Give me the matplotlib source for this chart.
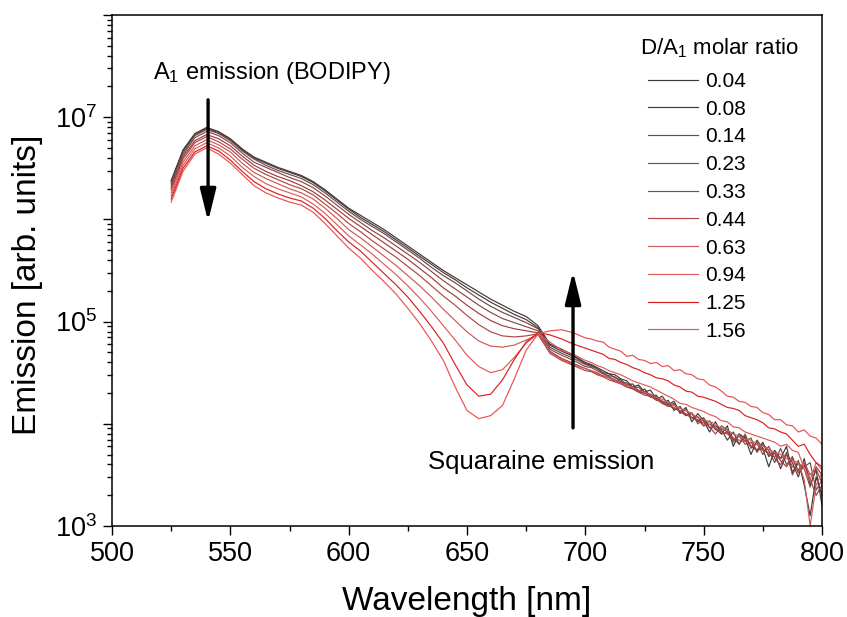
import numpy as np
import matplotlib
matplotlib.use("Agg")
import matplotlib.pyplot as plt
from matplotlib.ticker import FixedLocator, FuncFormatter, LogLocator, NullFormatter, MultipleLocator

plt.rcParams["font.family"] = ["Liberation Sans", "DejaVu Sans"]
plt.rcParams["mathtext.fontset"] = "custom"
plt.rcParams["mathtext.rm"] = "Liberation Sans"
plt.rcParams["mathtext.it"] = "Liberation Sans:italic"

# wavelength grid (nm): 5 nm steps up to 700, 2.5 nm steps in the noisy tail
wavelength = list(range(525, 701, 5)) + list(np.arange(702.5, 800.1, 2.5))

# log10(emission), one list per D/A1 molar ratio
log_em_004 = [6.38, 6.68, 6.84, 6.90, 6.86, 6.79, 6.69, 6.61, 6.56, 6.51, 6.47, 6.43, 6.37, 6.29, 6.20,
              6.11, 6.04, 5.97, 5.90, 5.82, 5.74, 5.66, 5.58, 5.50, 5.43, 5.36, 5.29, 5.22, 5.16, 5.10,
              5.05, 4.96, 4.78, 4.73, 4.67, 4.60,
              4.58, 4.55, 4.52, 4.49, 4.48, 4.44, 4.42, 4.36, 4.38, 4.31, 4.33, 4.24, 4.27, 4.19, 4.22,
              4.11, 4.16, 4.02, 4.10, 4.03, 3.92, 4.02, 3.90, 3.98, 3.78, 3.90, 3.86, 3.70, 3.84, 3.76,
              3.58, 3.74, 3.66, 3.78, 3.52, 3.64, 3.40, 3.10, 3.48, 3.30]
log_em_008 = [6.37, 6.67, 6.83, 6.89, 6.85, 6.78, 6.68, 6.60, 6.55, 6.50, 6.46, 6.42, 6.36, 6.28, 6.19,
              6.10, 6.02, 5.95, 5.88, 5.80, 5.72, 5.64, 5.56, 5.48, 5.41, 5.33, 5.26, 5.19, 5.13, 5.07,
              5.02, 4.94, 4.77, 4.71, 4.66, 4.59,
              4.57, 4.54, 4.50, 4.49, 4.45, 4.43, 4.38, 4.39, 4.32, 4.34, 4.27, 4.28, 4.20, 4.23, 4.13,
              4.17, 4.08, 4.10, 4.02, 4.06, 3.96, 3.98, 3.94, 3.84, 3.92, 3.80, 3.88, 3.78, 3.74, 3.82,
              3.68, 3.72, 3.56, 3.70, 3.62, 3.48, 3.66, 3.40, 3.55, 3.20]
log_em_014 = [6.35, 6.65, 6.82, 6.88, 6.84, 6.77, 6.67, 6.59, 6.53, 6.48, 6.44, 6.40, 6.34, 6.26, 6.17,
              6.08, 6.00, 5.93, 5.86, 5.78, 5.70, 5.62, 5.53, 5.45, 5.38, 5.30, 5.22, 5.15, 5.09, 5.04,
              4.99, 4.93, 4.75, 4.69, 4.64, 4.58,
              4.56, 4.54, 4.49, 4.47, 4.46, 4.41, 4.40, 4.35, 4.36, 4.30, 4.29, 4.25, 4.22, 4.18, 4.20,
              4.10, 4.14, 4.06, 4.07, 3.98, 4.03, 3.94, 3.96, 3.92, 3.82, 3.90, 3.83, 3.86, 3.72, 3.80,
              3.74, 3.62, 3.76, 3.60, 3.68, 3.52, 3.58, 3.62, 3.35, 3.45]
log_em_023 = [6.33, 6.63, 6.80, 6.86, 6.82, 6.75, 6.65, 6.56, 6.51, 6.46, 6.41, 6.37, 6.31, 6.23, 6.14,
              6.05, 5.97, 5.89, 5.82, 5.74, 5.66, 5.58, 5.49, 5.40, 5.32, 5.24, 5.16, 5.09, 5.03, 4.99,
              4.95, 4.91, 4.73, 4.67, 4.62, 4.56,
              4.55, 4.52, 4.49, 4.46, 4.43, 4.41, 4.38, 4.36, 4.32, 4.31, 4.26, 4.27, 4.20, 4.17, 4.19,
              4.12, 4.08, 4.11, 4.00, 4.04, 3.97, 3.90, 3.98, 3.94, 3.86, 3.80, 3.90, 3.76, 3.82, 3.70,
              3.78, 3.66, 3.60, 3.72, 3.50, 3.62, 3.56, 3.38, 3.58, 3.50]
log_em_033 = [6.31, 6.61, 6.77, 6.83, 6.79, 6.72, 6.62, 6.53, 6.47, 6.42, 6.38, 6.33, 6.27, 6.19, 6.10,
              6.01, 5.93, 5.85, 5.77, 5.69, 5.61, 5.52, 5.43, 5.33, 5.25, 5.16, 5.08, 5.01, 4.96, 4.93,
              4.91, 4.89, 4.71, 4.64, 4.59, 4.54,
              4.52, 4.50, 4.47, 4.45, 4.42, 4.40, 4.36, 4.35, 4.31, 4.30, 4.27, 4.23, 4.22, 4.18, 4.15,
              4.13, 4.09, 4.06, 4.04, 3.98, 4.00, 3.95, 3.90, 3.92, 3.84, 3.88, 3.80, 3.82, 3.74, 3.76,
              3.70, 3.72, 3.64, 3.58, 3.66, 3.54, 3.60, 3.46, 3.30, 3.40]
log_em_044 = [6.29, 6.59, 6.75, 6.81, 6.76, 6.69, 6.59, 6.50, 6.44, 6.39, 6.34, 6.30, 6.24, 6.15, 6.06,
              5.96, 5.88, 5.79, 5.71, 5.63, 5.54, 5.45, 5.35, 5.25, 5.16, 5.06, 4.97, 4.90, 4.86, 4.85,
              4.86, 4.88, 4.69, 4.62, 4.57, 4.52,
              4.51, 4.48, 4.46, 4.43, 4.41, 4.39, 4.36, 4.34, 4.31, 4.28, 4.27, 4.24, 4.20, 4.18, 4.16,
              4.12, 4.10, 4.06, 4.03, 4.01, 3.97, 3.96, 3.92, 3.90, 3.86, 3.84, 3.83, 3.78, 3.80, 3.74,
              3.72, 3.68, 3.66, 3.70, 3.58, 3.55, 3.62, 3.50, 3.56, 3.42]
log_em_063 = [6.26, 6.56, 6.72, 6.78, 6.73, 6.66, 6.55, 6.46, 6.40, 6.35, 6.30, 6.26, 6.20, 6.11, 6.01,
              5.90, 5.82, 5.73, 5.64, 5.55, 5.45, 5.35, 5.24, 5.12, 5.01, 4.90, 4.81, 4.76, 4.75, 4.77,
              4.82, 4.87, 4.70, 4.63, 4.58, 4.54,
              4.52, 4.49, 4.47, 4.45, 4.42, 4.40, 4.38, 4.36, 4.33, 4.31, 4.28, 4.26, 4.24, 4.21, 4.18,
              4.15, 4.13, 4.10, 4.06, 4.04, 4.02, 4.00, 3.95, 3.94, 3.90, 3.88, 3.85, 3.84, 3.80, 3.78,
              3.75, 3.72, 3.70, 3.66, 3.64, 3.62, 3.45, 3.00, 3.40, 3.52]
log_em_094 = [6.23, 6.53, 6.69, 6.75, 6.70, 6.62, 6.51, 6.42, 6.35, 6.30, 6.26, 6.22, 6.15, 6.06, 5.95,
              5.84, 5.75, 5.66, 5.56, 5.46, 5.35, 5.23, 5.10, 4.96, 4.82, 4.67, 4.56, 4.50, 4.53, 4.65,
              4.79, 4.88, 4.80, 4.72, 4.68, 4.62,
              4.60, 4.57, 4.55, 4.52, 4.50, 4.48, 4.45, 4.42, 4.40, 4.38, 4.36, 4.33, 4.30, 4.27, 4.24,
              4.20, 4.19, 4.16, 4.14, 4.12, 4.09, 4.07, 4.03, 4.02, 3.97, 3.96, 3.92, 3.90, 3.88, 3.86,
              3.84, 3.82, 3.78, 3.80, 3.74, 3.72, 3.56, 3.45, 3.62, 3.55]
log_em_125 = [6.20, 6.50, 6.66, 6.72, 6.67, 6.58, 6.47, 6.37, 6.30, 6.25, 6.21, 6.18, 6.11, 6.01, 5.89,
              5.78, 5.69, 5.58, 5.47, 5.36, 5.24, 5.10, 4.95, 4.79, 4.58, 4.38, 4.27, 4.29, 4.43, 4.63,
              4.80, 4.89, 4.87, 4.83, 4.78, 4.74,
              4.72, 4.70, 4.68, 4.64, 4.63, 4.60, 4.58, 4.55, 4.53, 4.50, 4.48, 4.45, 4.44, 4.42, 4.38,
              4.36, 4.32, 4.31, 4.27, 4.26, 4.24, 4.22, 4.19, 4.16, 4.15, 4.13, 4.08, 4.06, 4.04, 4.01,
              3.96, 3.95, 3.92, 3.90, 3.84, 3.78, 3.80, 3.70, 3.62, 3.58]
log_em_156 = [6.17, 6.47, 6.64, 6.70, 6.64, 6.55, 6.44, 6.33, 6.26, 6.21, 6.17, 6.14, 6.07, 5.96, 5.84,
              5.72, 5.62, 5.50, 5.39, 5.27, 5.13, 4.98, 4.81, 4.62, 4.36, 4.13, 4.05, 4.08, 4.18, 4.44,
              4.72, 4.88, 4.91, 4.92, 4.89, 4.84,
              4.83, 4.81, 4.80, 4.75, 4.73, 4.71, 4.66, 4.67, 4.63, 4.62, 4.59, 4.60, 4.56, 4.57, 4.52,
              4.53, 4.49, 4.48, 4.44, 4.43, 4.38, 4.36, 4.32, 4.27, 4.26, 4.22, 4.21, 4.17, 4.16, 4.11,
              4.09, 4.04, 4.04, 3.99, 3.98, 3.92, 3.94, 3.88, 3.86, 3.80]

ratio_labels = ["0.04", "0.08", "0.14", "0.23", "0.33", "0.44", "0.63", "0.94", "1.25", "1.56"]
series = [log_em_004, log_em_008, log_em_014, log_em_023, log_em_033,
          log_em_044, log_em_063, log_em_094, log_em_125, log_em_156]
colors = ["#3a3a3a", "#4a3838", "#6e4a4a", "#8a4848", "#a03c3c",
          "#b04646", "#cc5a5a", "#de5a5a", "#d82020", "#ea5050"]

fig = plt.figure(figsize=(8.47, 6.17), dpi=100)
ax = fig.add_axes([112/847, 1 - 526/617, 710/847, 511/617])

wl = np.array(wavelength)
for lab, vals, c in zip(ratio_labels, series, colors):
    ax.plot(wl, 10 ** np.array(vals), color=c, lw=0.85, label=lab)

ax.set_yscale("log")
ax.set_xlim(500, 800)
ax.set_ylim(1e3, 1e8)

ax.yaxis.set_major_locator(FixedLocator([1e3, 1e4, 1e5, 1e6, 1e7, 1e8]))
ax.yaxis.set_major_formatter(FuncFormatter(
    lambda v, p: r"$10^{%d}$" % round(np.log10(v)) if round(np.log10(v)) in (3, 5, 7) else ""))
ax.yaxis.set_minor_locator(LogLocator(base=10, subs=np.arange(2, 10), numticks=20))
ax.yaxis.set_minor_formatter(NullFormatter())
ax.xaxis.set_major_locator(MultipleLocator(50))
ax.xaxis.set_minor_locator(MultipleLocator(25))

ax.tick_params(which="both", direction="out", top=False, right=False, width=1)
ax.tick_params(which="major", length=6.5, labelsize=19.5, pad=4)
ax.tick_params(which="minor", length=3.5)
for s in ax.spines.values():
    s.set_linewidth(1.1)

ax.set_xlabel("Wavelength [nm]", fontsize=24, labelpad=14)
ax.set_ylabel("Emission [arb. units]", fontsize=24)
ax.yaxis.set_label_coords(-0.097, 0.472)

# annotations
bodipy_arrow_x, bodipy_arrow_top, bodipy_arrow_bot = 540.6, 10 ** 7.17, 10 ** 5.98
sq_arrow_x, sq_arrow_bot, sq_arrow_top = 694.8, 10 ** 3.96, 10 ** 5.49
arrow_style = dict(arrowstyle="-|>,head_length=1.3,head_width=0.32", lw=2.4,
                   color="black", mutation_scale=15, shrinkA=0, shrinkB=0)
ax.annotate("", xy=(bodipy_arrow_x, bodipy_arrow_bot),
            xytext=(bodipy_arrow_x, bodipy_arrow_top), arrowprops=arrow_style)
ax.annotate("", xy=(sq_arrow_x, sq_arrow_top),
            xytext=(sq_arrow_x, sq_arrow_bot), arrowprops=arrow_style)
ax.text(517.3, 10 ** 7.43, r"A$_1$ emission (BODIPY)", fontsize=17, va="center", ha="left")
ax.text(681.5, 10 ** 3.63, "Squaraine emission", fontsize=18.5, va="center", ha="center")

# legend title drawn as its own text, entries below it
ax.text((640 - 112) / 710, (526 - 48) / 511, r"D/A$_1$ molar ratio", transform=ax.transAxes,
        fontsize=16, va="center", ha="left")
leg = ax.legend(loc="upper left", bbox_to_anchor=((648 - 112) / 710, (526 - 72) / 511),
                frameon=False, fontsize=15, handlelength=2.4, handletextpad=0.35,
                labelspacing=0.42, borderpad=0, borderaxespad=0)

fig.savefig("out.png", dpi=100, facecolor="white")
